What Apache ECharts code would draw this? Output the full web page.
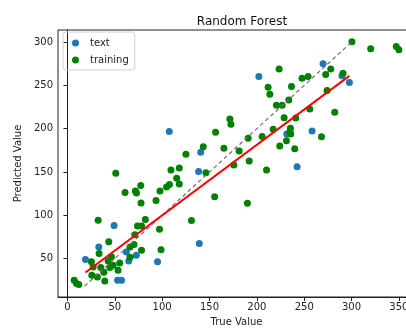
<!DOCTYPE html>
<html>
<head>
<meta charset="utf-8">
<script src="https://cdn.jsdelivr.net/npm/echarts@6/dist/echarts.min.js"></script>
<style>html,body{margin:0;padding:0;background:#fff}#c{width:406px;height:329px}</style>
</head>
<body>
<div id="c"></div>
<script>
// test points ("text" in legend)
var testX = [19.0, 33.1, 49.2, 62.2, 64.7, 72.7, 52.9, 57.1, 95.1, 139.2, 107.5, 140.7, 138.5, 202.1, 269.9, 289.9, 297.7, 231.6, 258.3, 242.5];
var testY = [48.8, 63.4, 88.0, 57.6, 47.2, 53.8, 24.9, 24.9, 46.1, 67.4, 196.8, 172.7, 150.5, 260.4, 274.9, 261.0, 253.2, 193.9, 197.3, 156.0];
// training points
var trainX = [300.4, 320.2, 347.2, 350.0, 278.0, 272.7, 291.0, 223.5, 247.7, 254.1, 211.9, 213.7, 236.6, 233.7, 220.7, 226.7, 274.1, 255.9, 282.2, 228.8, 241.1, 217.2, 235.5, 234.8, 235.8, 268.2, 205.6, 231.3, 224.2, 240.0, 210.2,
  171.5, 172.6, 156.4, 143.4, 165.2, 181.3, 190.8, 191.9, 175.7, 125.1, 109.3, 118.1, 146.2, 115.3, 118.1, 104.6, 107.7, 97.7, 93.5, 155.4, 190.0, 130.9, 97.2,
  51.0, 60.8, 71.7, 72.9, 77.4, 77.7, 82.2, 32.4, 74.0, 78.2, 71.1, 43.6, 70.3, 66.1, 78.2, 98.8, 33.4, 46.4, 66.1, 25.3, 42.9, 55.2, 48.2, 27.1, 35.2, 44.7, 53.4, 38.4, 31.6, 39.4, 7.1, 9.5, 12.0, 25.7];
var trainY = [300.3, 292.2, 294.9, 291.1, 268.8, 262.5, 264.1, 268.8, 258.3, 260.2, 247.9, 239.8, 248.6, 233.2, 227.1, 227.1, 244.0, 222.8, 219.0, 212.7, 212.4, 199.3, 200.5, 196.5, 193.9, 190.7, 191.0, 186.1, 180.0, 176.9, 152.2,
  211.2, 205.1, 195.8, 179.2, 177.3, 174.2, 188.9, 162.6, 158.0, 170.4, 152.2, 154.5, 149.1, 142.6, 136.0, 132.5, 135.4, 127.9, 116.9, 121.3, 113.7, 93.8, 83.9,
  148.4, 126.2, 127.9, 125.6, 134.3, 114.0, 95.1, 94.3, 87.4, 87.4, 77.5, 69.2, 66.2, 63.4, 59.6, 60.2, 55.8, 51.9, 51.5, 46.1, 47.2, 44.9, 42.2, 40.3, 39.6, 39.6, 36.5, 34.1, 28.7, 24.1, 24.9, 21.1, 19.9, 30.7];
// fitted regression line end points (red) and ideal y = x line end points (dashed)
var fitX = [19.0, 297.7];
var fitY = [33.8, 261.0];
var idealX = [18, 300];
var idealY = [18, 300];
var xTicks = [0, 50, 100, 150, 200, 250, 300, 350];
var yTicks = [50, 100, 150, 200, 250, 300];

function pairs(a, b) { return a.map(function (v, i) { return [v, b[i]]; }); }

var font = 'DejaVu Sans';
var chart = echarts.init(document.getElementById('c'), null, { renderer: 'canvas' });
chart.setOption({
  animation: false,
  backgroundColor: '#fff',
  title: {
    text: 'Random Forest', left: 237, top: 11, textAlign: 'center',
    textStyle: { fontFamily: font, fontSize: 12, fontWeight: 'normal', color: '#111' }
  },
  legend: {
    orient: 'vertical', left: 63, top: 32,
    data: ['text', 'training'],
    icon: 'circle', itemWidth: 7, itemHeight: 7, itemGap: 7,
    padding: [6, 6, 5, 9],
    borderColor: '#d0d0d0', borderWidth: 1, borderRadius: 3,
    textStyle: { fontFamily: font, fontSize: 10, color: '#222', padding: [0, 0, 0, 6] }
  },
  grid: {
    left: 58, top: 30, right: -9, bottom: 32,
    outerBoundsMode: 'none', containLabel: false,
    show: true, borderColor: '#222', borderWidth: 1, backgroundColor: 'transparent'
  },
  xAxis: {
    type: 'value', min: -10, max: 367,
    name: 'True Value', nameLocation: 'middle', nameGap: 20,
    nameTextStyle: { fontFamily: font, fontSize: 10, color: '#222' },
    axisLine: { show: true, lineStyle: { color: '#222' } },
    axisTick: { show: true, length: 4, customValues: xTicks, lineStyle: { color: '#222' } },
    axisLabel: { customValues: xTicks, fontFamily: font, fontSize: 10, color: '#222', margin: 5 },
    splitLine: { show: false }
  },
  yAxis: {
    type: 'value', min: 5.5, max: 314,
    name: 'Predicted Value', nameLocation: 'middle', nameGap: 33,
    nameTextStyle: { fontFamily: font, fontSize: 10, color: '#222' },
    axisLine: { show: true, lineStyle: { color: '#222' } },
    axisTick: { show: true, length: 4, customValues: yTicks, lineStyle: { color: '#222' } },
    axisLabel: { customValues: yTicks, fontFamily: font, fontSize: 10, color: '#222', margin: 5 },
    splitLine: { show: false }
  },
  series: [
    {
      name: 'text', type: 'scatter', data: pairs(testX, testY),
      symbolSize: 7, itemStyle: { color: '#1f77b4', opacity: 1 }, z: 2
    },
    {
      name: 'training', type: 'scatter', data: pairs(trainX, trainY),
      symbolSize: 7, itemStyle: { color: '#008000', opacity: 1 }, z: 3
    },
    {
      name: 'ideal', type: 'line', data: pairs(idealX, idealY), showSymbol: false, symbol: 'none',
      lineStyle: { color: '#707070', width: 1.2, type: [4, 3] }, z: 4, silent: true
    },
    {
      name: 'fit', type: 'line', data: pairs(fitX, fitY), showSymbol: false, symbol: 'none',
      lineStyle: { color: '#ff0000', width: 2 }, z: 5, silent: true
    }
  ]
});
</script>
</body>
</html>
